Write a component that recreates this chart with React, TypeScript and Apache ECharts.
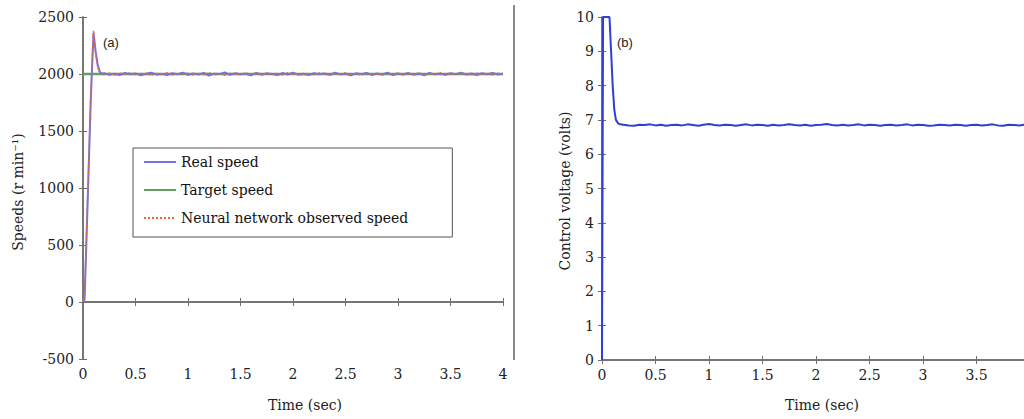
import React, { useEffect, useRef } from "react";
import * as echarts from "echarts";

// ---- Panel (a): speeds ----
const speedEarlyTime = [0, 0.015, 0.035, 0.055, 0.075, 0.1, 0.12, 0.14, 0.16, 0.18];
const realSpeedEarly = [0, 20, 600, 1200, 1800, 2360, 2200, 2080, 2020, 2000];
const observedSpeedEarly = [0, 60, 650, 1260, 1850, 2380, 2180, 2060, 2010, 1998];

const steadyTime = [
  0.2, 0.25, 0.3, 0.35, 0.4, 0.45, 0.5, 0.55, 0.6, 0.65,
  0.7, 0.75, 0.8, 0.85, 0.9, 0.95, 1, 1.05, 1.1, 1.15,
  1.2, 1.25, 1.3, 1.35, 1.4, 1.45, 1.5, 1.55, 1.6, 1.65,
  1.7, 1.75, 1.8, 1.85, 1.9, 1.95, 2, 2.05, 2.1, 2.15,
  2.2, 2.25, 2.3, 2.35, 2.4, 2.45, 2.5, 2.55, 2.6, 2.65,
  2.7, 2.75, 2.8, 2.85, 2.9, 2.95, 3, 3.05, 3.1, 3.15,
  3.2, 3.25, 3.3, 3.35, 3.4, 3.45, 3.5, 3.55, 3.6, 3.65,
  3.7, 3.75, 3.8, 3.85, 3.9, 3.95, 4,
];

const realSpeedSteady = [
  2008, 1994, 2003, 1991, 2010, 1997, 2005, 1988, 2002, 2012,
  1995, 2001, 1990, 2007, 1998, 2011, 1993, 2004, 1996, 2009,
  1987, 2003, 1999, 2013, 1992, 2006, 1997, 2002, 1989, 2010,
  1995, 2004, 2000, 1991, 2008, 1996, 2012, 1994, 2003, 1990,
  2007, 1998, 2005, 1993, 2011, 1997, 2001, 1988, 2006, 1999,
  2009, 1992, 2004, 1996, 2012, 1990, 2003, 1998, 2008, 1994,
  2005, 1989, 2010, 1997, 2002, 1993, 2007, 1999, 2011, 1995,
  2004, 1991, 2006, 1998, 2009, 1996, 2003,
];

const observedSpeedSteady = [
  1996, 2009, 1990, 2006, 1999, 2012, 1993, 2004, 1997, 1989,
  2008, 1995, 2011, 1992, 2003, 1998, 2010, 1991, 2005, 1994,
  2012, 1996, 2001, 1988, 2007, 1999, 1993, 2010, 1997, 2004,
  1990, 2009, 1995, 2006, 1992, 2011, 1998, 2002, 1989, 2007,
  1994, 2010, 1999, 1991, 2005, 1996, 2012, 1993, 2003, 1990,
  2008, 1997, 2001, 1992, 2006, 1995, 2011, 1990, 2004, 1998,
  2009, 1993, 2002, 1996, 2012, 1991, 2005, 1994, 2007, 1999,
  1992, 2008, 1996, 2004, 1990, 2006, 1997,
];

const targetTime = [0, 4];
const targetSpeed = [2000, 2000];

// ---- Panel (b): control voltage ----
const voltageEarlyTime = [0, 0.01, 0.07, 0.085, 0.1, 0.115, 0.13, 0.15, 0.17];
const voltageEarly = [0, 10, 10, 9, 8, 7.3, 7.0, 6.9, 6.87];
const voltageSteady = [
  6.86, 6.84, 6.83, 6.86, 6.85, 6.87, 6.84, 6.86, 6.83, 6.85,
  6.86, 6.84, 6.87, 6.85, 6.83, 6.86, 6.88, 6.85, 6.84, 6.86,
  6.85, 6.83, 6.85, 6.87, 6.84, 6.86, 6.85, 6.83, 6.86, 6.84,
  6.85, 6.87, 6.85, 6.84, 6.86, 6.83, 6.85, 6.86, 6.88, 6.85,
  6.84, 6.86, 6.84, 6.85, 6.87, 6.84, 6.86, 6.85, 6.83, 6.85,
  6.86, 6.84, 6.85, 6.87, 6.84, 6.86, 6.85, 6.83, 6.84, 6.86,
  6.85, 6.84, 6.86, 6.85, 6.83, 6.85, 6.86, 6.84, 6.85, 6.87,
  6.84, 6.83, 6.86, 6.85, 6.84, 6.86, 6.85,
];

const legendNames = ["Real speed", "Target speed", "Neural network observed speed"];
const speedTicks = { min: -500, max: 2500, interval: 500 };
const voltTicks = { min: 0, max: 10, interval: 1 };
const timeTicks = { min: 0, max: 4, interval: 0.5 };

const zip = (xs: number[], ys: number[]) => xs.map((x, i) => [x, ys[i]]);

const FONT = "DejaVu Serif";
const AXIS_COLOR = "#6e6e6e";

function axisCommon(show: boolean, margin = 8) {
  return {
    axisLine: { show: true, lineStyle: { color: AXIS_COLOR, width: 1.5 } },
    axisTick: { show: true, inside: true, length: 4, lineStyle: { color: AXIS_COLOR } },
    axisLabel: {
      show,
      margin,
      color: "#222",
      fontFamily: FONT,
      fontSize: 14,
      formatter: (v: number) => String(v),
    },
    splitLine: { show: false },
  };
}

export default function App() {
  const ref = useRef<HTMLDivElement>(null);

  useEffect(() => {
    if (!ref.current) return;
    const chart = echarts.init(ref.current, null, { renderer: "svg" });

    const realData = [...zip(speedEarlyTime, realSpeedEarly), ...zip(steadyTime, realSpeedSteady)];
    const obsData = [...zip(speedEarlyTime, observedSpeedEarly), ...zip(steadyTime, observedSpeedSteady)];
    const targetData = zip(targetTime, targetSpeed);
    const voltData = [...zip(voltageEarlyTime, voltageEarly), ...zip(steadyTime, voltageSteady)];

    chart.setOption({
      animation: false,
      backgroundColor: "#ffffff",
      grid: [
        { left: 83, top: 17, width: 420, height: 342, outerBoundsMode: "none", containLabel: false },
        { left: 602, top: 17, width: 428, height: 343, outerBoundsMode: "none", containLabel: false },
      ],
      xAxis: [
        { type: "value", gridIndex: 0, position: "bottom", ...timeTicks, ...axisCommon(true, 8) },
        { type: "value", gridIndex: 0, position: "top", ...timeTicks, ...axisCommon(false) },
        { type: "value", gridIndex: 1, position: "bottom", ...timeTicks, ...axisCommon(true, 8) },
        { type: "value", gridIndex: 1, position: "top", ...timeTicks, ...axisCommon(false) },
      ],
      yAxis: [
        { type: "value", gridIndex: 0, position: "left", ...speedTicks, ...axisCommon(true, 9) },
        { type: "value", gridIndex: 0, position: "right", ...speedTicks, ...axisCommon(false) },
        { type: "value", gridIndex: 1, position: "left", ...voltTicks, ...axisCommon(true, 8) },
        { type: "value", gridIndex: 1, position: "right", ...voltTicks, ...axisCommon(false) },
      ],
      legend: {
        data: legendNames,
        orient: "vertical",
        left: 133,
        top: 148,
        padding: [7, 44, 12, 10],
        itemGap: 14,
        itemWidth: 32,
        itemHeight: 14,
        backgroundColor: "#ffffff",
        borderColor: "#555",
        borderWidth: 1,
        borderRadius: 0,
        itemStyle: { opacity: 0 },
        textStyle: { fontFamily: FONT, fontSize: 14, color: "#111" },
      },
      series: [
        {
          name: "Target speed",
          type: "line",
          xAxisIndex: 0,
          yAxisIndex: 0,
          data: targetData,
          showSymbol: false,
          symbol: "none",
          lineStyle: { color: "#5f9f5f", width: 2.5 },
          itemStyle: { color: "#5f9f5f" },
          z: 2,
        },
        {
          name: "Real speed",
          type: "line",
          xAxisIndex: 0,
          yAxisIndex: 0,
          data: realData,
          showSymbol: false,
          symbol: "none",
          lineStyle: { color: "#6f74e8", width: 2 },
          itemStyle: { color: "#6f74e8" },
          z: 3,
        },
        {
          name: "Neural network observed speed",
          type: "line",
          xAxisIndex: 0,
          yAxisIndex: 0,
          data: obsData,
          showSymbol: false,
          symbol: "none",
          lineStyle: { color: "#e8662e", width: 1.5, type: "dotted" },
          itemStyle: { color: "#e8662e" },
          z: 4,
        },
        {
          name: "Control voltage",
          type: "line",
          xAxisIndex: 2,
          yAxisIndex: 2,
          data: voltData,
          showSymbol: false,
          symbol: "none",
          lineStyle: { color: "#2f3fd6", width: 2 },
          itemStyle: { color: "#2f3fd6" },
          z: 3,
        },
      ],
      graphic: [
        {
          type: "line",
          shape: { x1: 514, y1: 5, x2: 514, y2: 360 },
          style: { stroke: "#8a8a8a", lineWidth: 2 },
        },
        {
          type: "text",
          x: 103,
          y: 42,
          style: { text: "(a)", fontFamily: "Liberation Sans", fontSize: 13, fill: "#222", textVerticalAlign: "middle" },
          z: 10,
        },
        {
          type: "text",
          x: 617,
          y: 42,
          style: { text: "(b)", fontFamily: "Liberation Sans", fontSize: 13, fill: "#222", textVerticalAlign: "middle" },
          z: 10,
        },
        {
          type: "text",
          x: 18,
          y: 192,
          rotation: Math.PI / 2,
          style: { text: "Speeds (r min⁻¹)", fontFamily: FONT, fontSize: 14, fill: "#222", textAlign: "center", textVerticalAlign: "middle" },
        },
        {
          type: "text",
          x: 565,
          y: 191,
          rotation: Math.PI / 2,
          style: { text: "Control voltage (volts)", fontFamily: FONT, fontSize: 14, fill: "#222", textAlign: "center", textVerticalAlign: "middle" },
        },
        {
          type: "text",
          x: 305,
          y: 405,
          style: { text: "Time (sec)", fontFamily: FONT, fontSize: 14, fill: "#222", textAlign: "center", textVerticalAlign: "middle" },
        },
        {
          type: "text",
          x: 822,
          y: 405,
          style: { text: "Time (sec)", fontFamily: FONT, fontSize: 14, fill: "#222", textAlign: "center", textVerticalAlign: "middle" },
        },
      ],
    });

    return () => chart.dispose();
  }, []);

  return (
    <div
      ref={ref}
      style={{ position: "absolute", left: 0, top: 0, width: 1024, height: 419, background: "#fff" }}
    />
  );
}
